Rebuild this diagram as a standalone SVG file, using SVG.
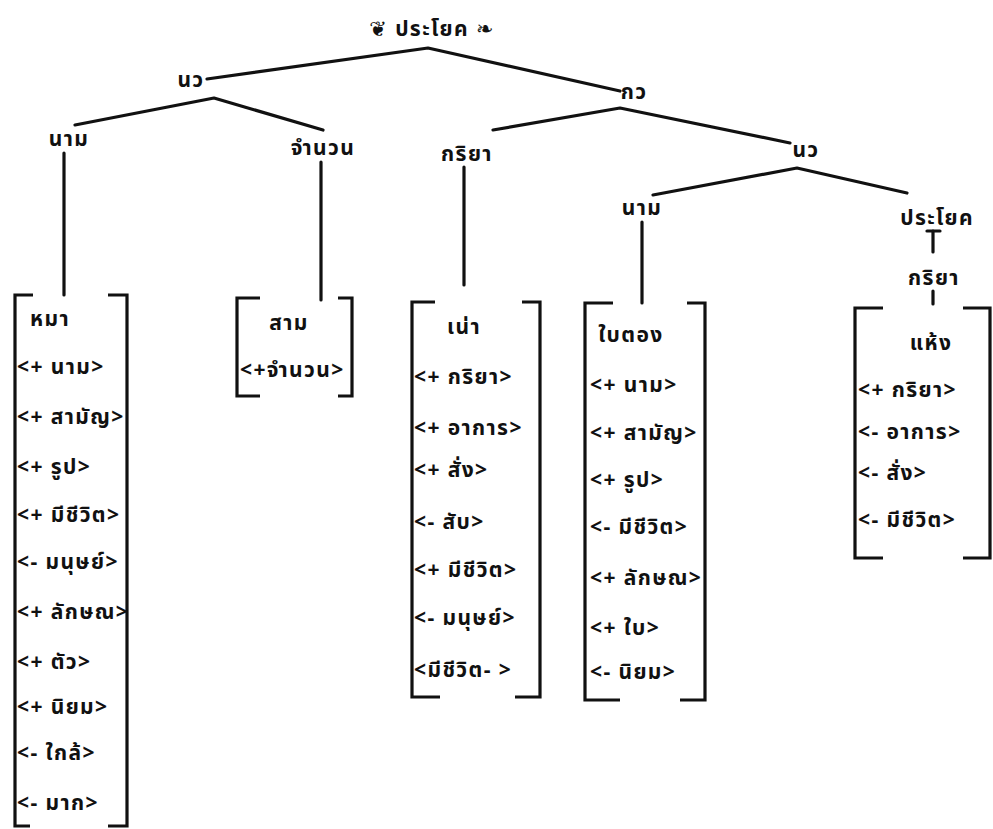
<svg xmlns="http://www.w3.org/2000/svg" width="993" height="829" viewBox="0 0 993 829">
<style>
.t{font-family:"Noto Sans Thai","Noto Sans","DejaVu Sans",sans-serif;font-size:21px;font-weight:bold;fill:#111;letter-spacing:1.4px}
.c{text-anchor:middle}
.ln{stroke:#111;stroke-width:3.2;fill:none;stroke-linecap:round;stroke-linejoin:round}
.br{stroke:#111;stroke-width:3.2;fill:none}
</style>
<rect width="993" height="829" fill="#fff"/>
<g id="connectors" class="ln">
<polyline points="207,79 428,48 620,91"/>
<polyline points="75,125 214,98 323,130"/>
<polyline points="493,130 620,108 790,143"/>
<polyline points="653,195 797,168 907,193"/>
<line x1="64" y1="153" x2="64" y2="295"/>
<line x1="321" y1="162" x2="321" y2="300"/>
<line x1="464" y1="167" x2="464" y2="285"/>
<line x1="642" y1="222" x2="642" y2="303"/>
<line x1="933" y1="231" x2="933" y2="252"/>
<line x1="927" y1="231" x2="940" y2="231"/>
<line x1="933" y1="291" x2="933" y2="304"/>
</g>
<g id="root"><text class="t c" x="432" y="36">❦ ประโยค ❧</text></g>
<g id="nv1"><text class="t c" x="191" y="87">นว</text></g>
<g id="kv"><text class="t c" x="634" y="99">กว</text></g>
<g id="nam1"><text class="t c" x="69" y="146">นาม</text></g>
<g id="jamnuan"><text class="t c" x="323" y="155">จำนวน</text></g>
<g id="kriya1"><text class="t c" x="467" y="161">กริยา</text></g>
<g id="nv2"><text class="t c" x="806" y="157">นว</text></g>
<g id="nam2"><text class="t c" x="642" y="215">นาม</text></g>
<g id="prayok2"><text class="t c" x="937" y="225">ประโยค</text></g>
<g id="kriya2"><text class="t c" x="934" y="285">กริยา</text></g>
<g id="b-maa">
<path class="br" d="M33,295 H15 V826 H30 M108,295 H127 V826 H108"/>
<text class="t" x="30" y="326">หมา</text>
<text class="t" x="17" y="374">&lt;+ นาม&gt;</text>
<text class="t" x="17" y="424">&lt;+ สามัญ&gt;</text>
<text class="t" x="17" y="474">&lt;+ รูป&gt;</text>
<text class="t" x="17" y="522">&lt;+ มีชีวิต&gt;</text>
<text class="t" x="17" y="569">&lt;- มนุษย์&gt;</text>
<text class="t" x="17" y="619">&lt;+ ลักษณ&gt;</text>
<text class="t" x="17" y="669">&lt;+ ตัว&gt;</text>
<text class="t" x="17" y="714">&lt;+ นิยม&gt;</text>
<text class="t" x="17" y="760">&lt;- ใกล้&gt;</text>
<text class="t" x="17" y="810">&lt;- มาก&gt;</text>
</g>
<g id="b-saam">
<path class="br" d="M260,298 H237 V396 H260 M338,298 H352 V396 H338"/>
<text class="t c" x="289" y="330">สาม</text>
<text class="t" x="240" y="377">&lt;+จำนวน&gt;</text>
</g>
<g id="b-nao">
<path class="br" d="M435,302 H412 V697 H440 M522,302 H540 V697 H515"/>
<text class="t c" x="464" y="334">เน่า</text>
<text class="t" x="414" y="384">&lt;+ กริยา&gt;</text>
<text class="t" x="414" y="435">&lt;+ อาการ&gt;</text>
<text class="t" x="414" y="477">&lt;+ สั่ง&gt;</text>
<text class="t" x="414" y="529">&lt;- สับ&gt;</text>
<text class="t" x="414" y="577">&lt;+ มีชีวิต&gt;</text>
<text class="t" x="414" y="625">&lt;- มนุษย์&gt;</text>
<text class="t" x="414" y="677">&lt;มีชีวิต- &gt;</text>
</g>
<g id="b-baitong">
<path class="br" d="M613,303 H585 V700 H620 M687,303 H705 V700 H680"/>
<text class="t c" x="631" y="342">ใบตอง</text>
<text class="t" x="590" y="392">&lt;+ นาม&gt;</text>
<text class="t" x="590" y="440">&lt;+ สามัญ&gt;</text>
<text class="t" x="590" y="487">&lt;+ รูป&gt;</text>
<text class="t" x="590" y="534">&lt;- มีชีวิต&gt;</text>
<text class="t" x="590" y="585">&lt;+ ลักษณ&gt;</text>
<text class="t" x="590" y="635">&lt;+ ใบ&gt;</text>
<text class="t" x="590" y="679">&lt;- นิยม&gt;</text>
</g>
<g id="b-haeng">
<path class="br" d="M883,308 H855 V558 H883 M963,308 H990 V558 H963"/>
<text class="t c" x="931" y="350">แห้ง</text>
<text class="t" x="858" y="397">&lt;+ กริยา&gt;</text>
<text class="t" x="858" y="439">&lt;- อาการ&gt;</text>
<text class="t" x="858" y="480">&lt;- สั่ง&gt;</text>
<text class="t" x="858" y="527">&lt;- มีชีวิต&gt;</text>
</g>
</svg>
